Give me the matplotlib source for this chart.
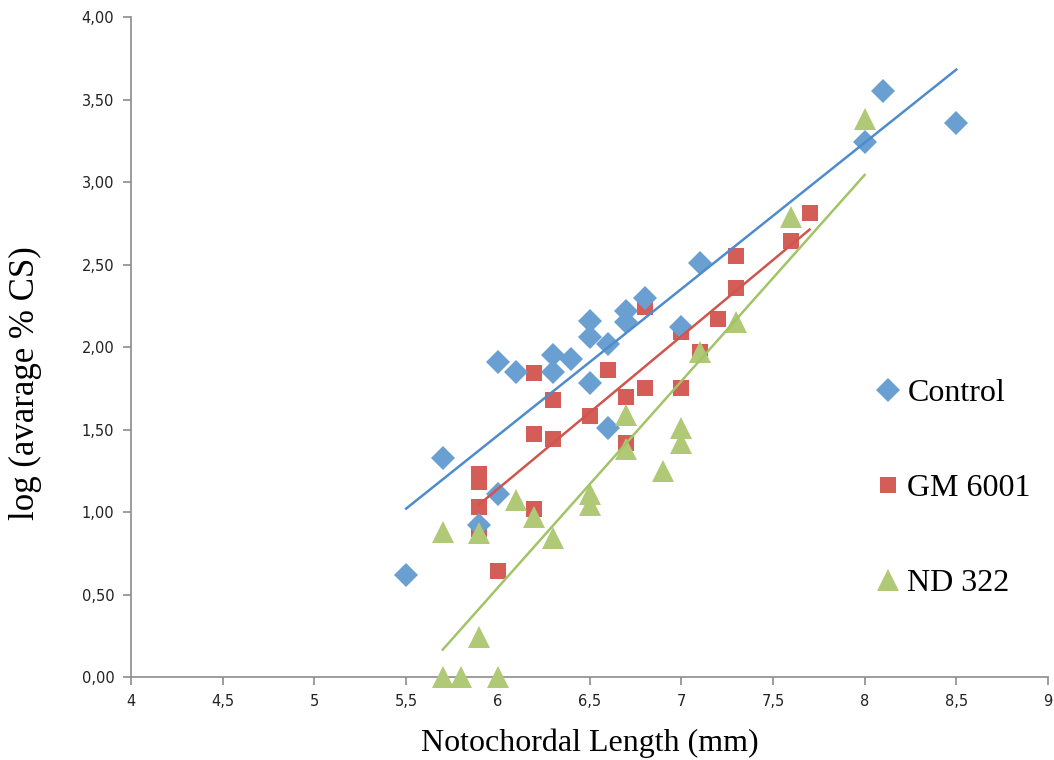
import numpy as np
import matplotlib
matplotlib.use("Agg")
import matplotlib.pyplot as plt
from matplotlib.ticker import FixedLocator

# Data
control_x = [5.5, 5.7, 5.9, 6.0, 6.0, 6.1, 6.3, 6.3, 6.4, 6.5, 6.5, 6.5, 6.6, 6.6,
             6.7, 6.7, 6.8, 7.0, 7.1, 8.0, 8.1, 8.5]
control_y = [0.62, 1.33, 0.92, 1.11, 1.91, 1.85, 1.95, 1.85, 1.93, 2.16, 2.06, 1.78,
             2.02, 1.51, 2.22, 2.15, 2.30, 2.12, 2.51, 3.24, 3.55, 3.36]

gm_x = [5.9, 5.9, 5.9, 5.9, 6.0, 6.2, 6.2, 6.2, 6.3, 6.3, 6.5, 6.6, 6.7, 6.7, 6.8,
        6.8, 7.0, 7.0, 7.1, 7.2, 7.3, 7.3, 7.6, 7.7]
gm_y = [1.23, 1.18, 1.03, 0.90, 0.64, 1.84, 1.47, 1.02, 1.68, 1.44, 1.58, 1.86,
        1.70, 1.42, 2.24, 1.75, 2.09, 1.75, 1.97, 2.17, 2.55, 2.36, 2.64, 2.81]

nd_x = [5.7, 5.7, 5.8, 5.9, 5.9, 6.0, 6.1, 6.2, 6.3, 6.5, 6.5, 6.7, 6.7, 6.9, 7.0,
        7.0, 7.1, 7.3, 7.6, 8.0]
nd_y = [0.88, 0.0, 0.0, 0.87, 0.24, 0.0, 1.07, 0.97, 0.84, 1.11, 1.04, 1.59, 1.38,
        1.25, 1.51, 1.42, 1.97, 2.15, 2.79, 3.38]

x_ticks = [4, 4.5, 5, 5.5, 6, 6.5, 7, 7.5, 8, 8.5, 9]
x_labels = ["4", "4,5", "5", "5,5", "6", "6,5", "7", "7,5", "8", "8,5", "9"]
y_ticks = [0, 0.5, 1.0, 1.5, 2.0, 2.5, 3.0, 3.5, 4.0]
y_labels = ["0,00", "0,50", "1,00", "1,50", "2,00", "2,50", "3,00", "3,50", "4,00"]

series = [
    ("Control", control_x, control_y, "D", 12, "#6a9fd2", "#4f8ccb", 3),
    ("GM 6001", gm_x, gm_y, "s", 12, "#d45d58", "#d0554f", 2),
    ("ND 322", nd_x, nd_y, "^", 16, "#b0c977", "#a3c466", 4),
]

fig = plt.figure(figsize=(10.54, 7.6), dpi=100)
ax = fig.add_axes([0.1243, 0.1092, 0.87, 0.8684])

for name, xs, ys, mk, ms, col, lcol, z in series:
    ax.plot(xs, ys, linestyle="none", marker=mk, markersize=ms, color=col,
            markeredgewidth=0, label=name, zorder=z, clip_on=False)
    # linear trendline over the data range
    k, b = np.polyfit(xs, ys, 1)
    xx = np.array([min(xs), max(xs)])
    ax.plot(xx, k * xx + b, color=lcol, linewidth=1.8, zorder=5)

ax.set_xlim(4, 9)
ax.set_ylim(0, 4)
ax.xaxis.set_major_locator(FixedLocator(x_ticks))
ax.set_xticklabels(x_labels)
ax.yaxis.set_major_locator(FixedLocator(y_ticks))
ax.set_yticklabels(y_labels)

for s in ["top", "right"]:
    ax.spines[s].set_visible(False)
for s in ["left", "bottom"]:
    ax.spines[s].set_color("#8c8c8c")
    ax.spines[s].set_linewidth(1.2)
ax.tick_params(direction="out", length=6, width=1.2, color="#8c8c8c",
               labelsize=10.5, labelcolor="#222222", pad=6)

ax.set_xlabel("Notochordal Length (mm)", family="Liberation Serif", fontsize=23,
              labelpad=14)
ax.set_ylabel("log (avarage % CS)", family="Liberation Serif", fontsize=25)
ax.yaxis.set_label_coords(-0.097, 0.445)

ax.legend(loc="center left", bbox_to_anchor=(0.777, 0.2855), frameon=False,
          prop={"family": "Liberation Serif", "size": 23}, labelspacing=2.06,
          handletextpad=0.1, handlelength=1.0, markerscale=1.0)

fig.savefig("out.png", dpi=100)
